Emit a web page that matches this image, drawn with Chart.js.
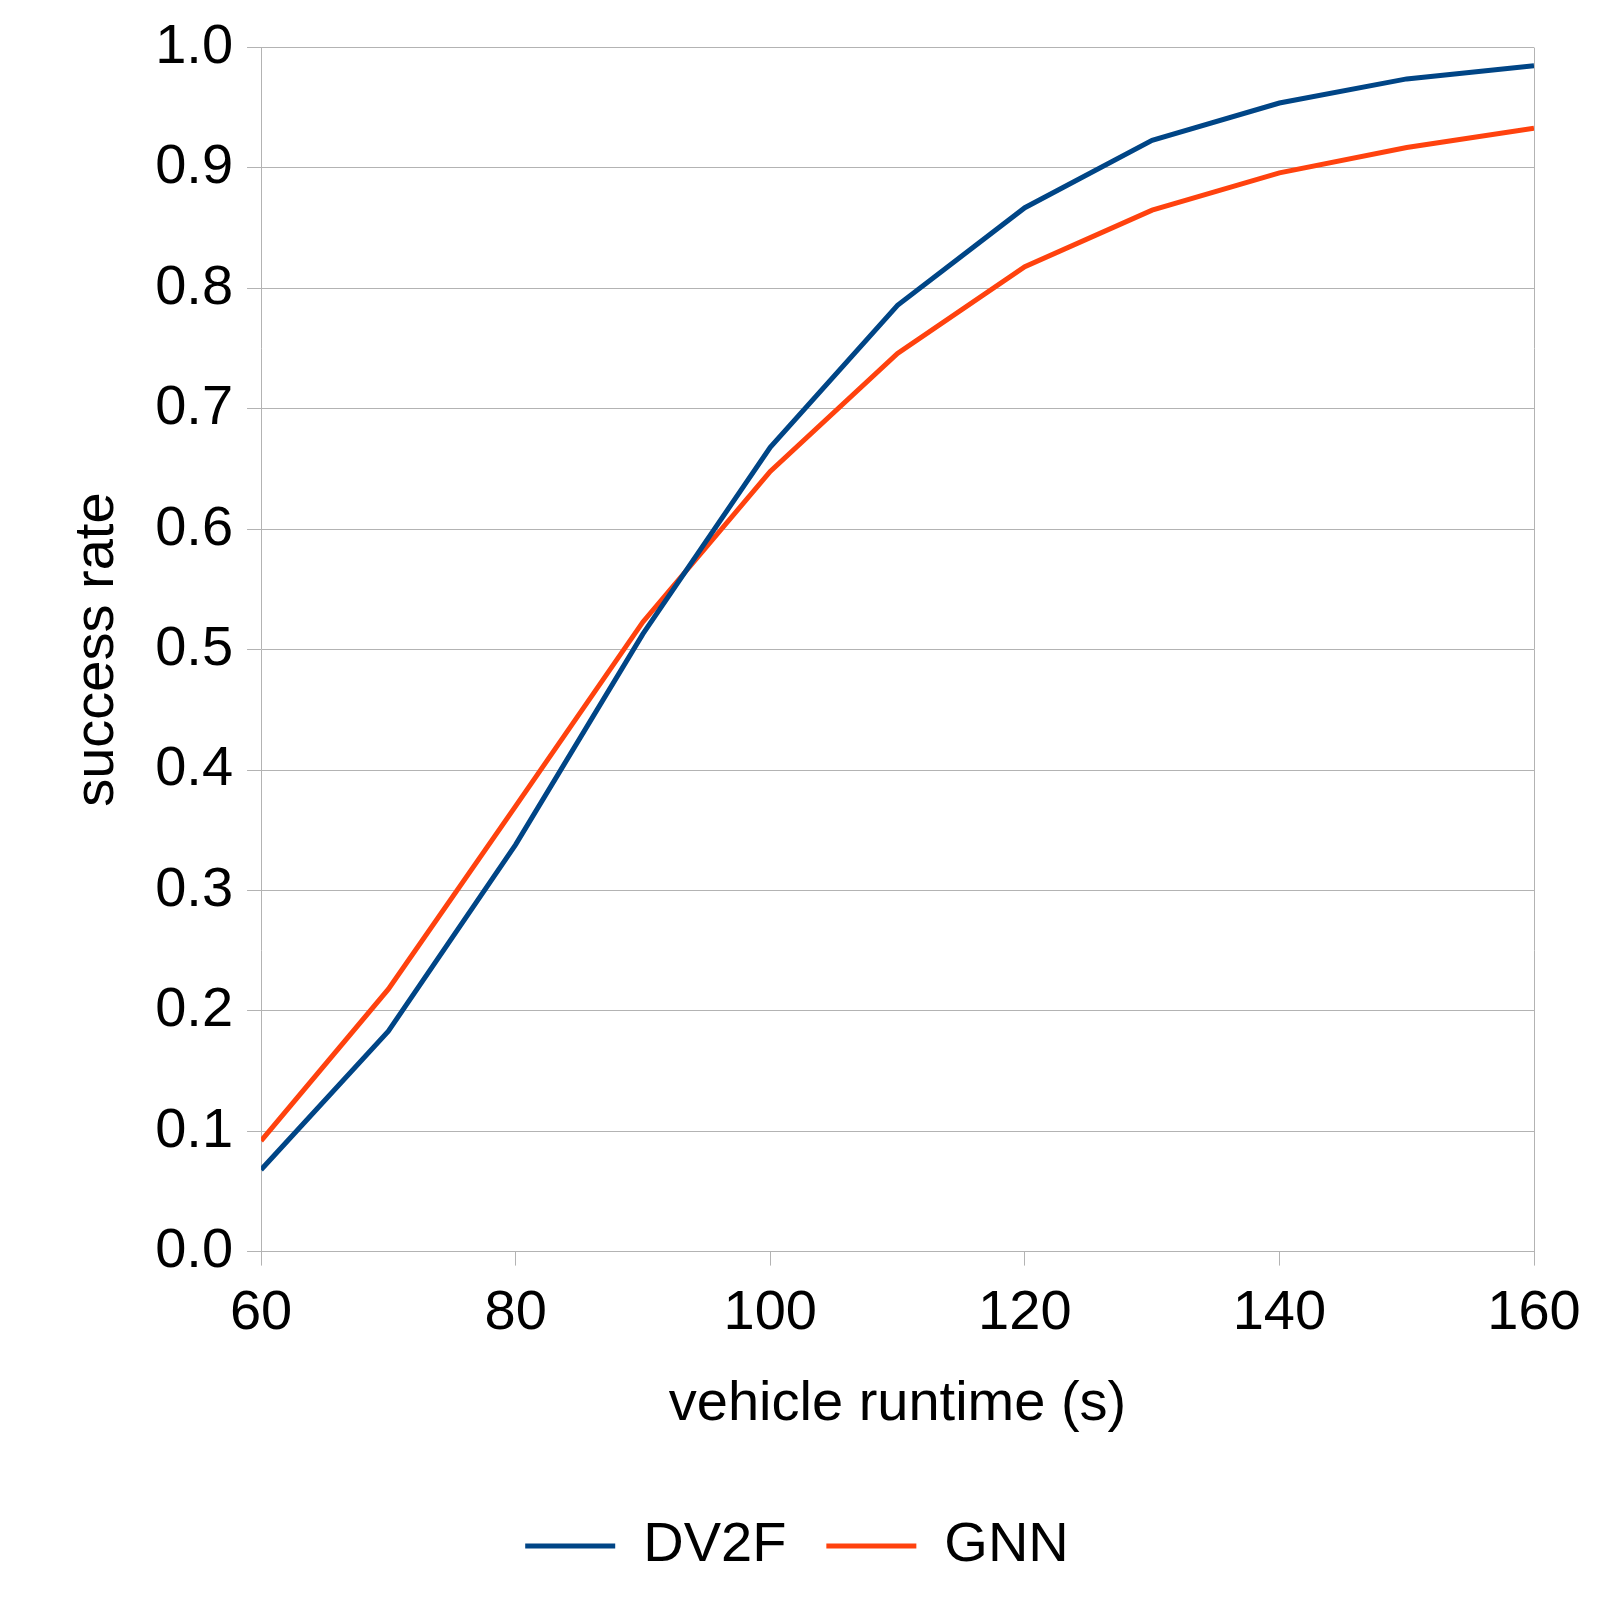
<!DOCTYPE html>
<html>
<head>
<meta charset="utf-8">
<script src="https://cdn.jsdelivr.net/npm/chart.js@4"></script>
<style>
  body { margin: 0; background: #fff; }
</style>
</head>
<body>
<canvas id="chart" width="1624" height="1624"></canvas>
<script>
const runtimes = [60, 70, 80, 90, 100, 110, 120, 130, 140, 150, 160];
const dv2f = [0.068, 0.183, 0.338, 0.513, 0.668, 0.786, 0.867, 0.923, 0.954, 0.974, 0.985];
const gnn = [0.092, 0.218, 0.370, 0.523, 0.648, 0.746, 0.818, 0.865, 0.896, 0.917, 0.933];

const toPoints = (ys) => runtimes.map((x, i) => ({ x: x, y: ys[i] }));

// draws the right-hand frame line of the plot area
const rightBorder = {
  id: "rightBorder",
  afterDraw(chart) {
    const { ctx, chartArea } = chart;
    ctx.save();
    ctx.strokeStyle = "#b3b3b3";
    ctx.lineWidth = 1;
    ctx.beginPath();
    ctx.moveTo(chartArea.right + 0.5, chartArea.top);
    ctx.lineTo(chartArea.right + 0.5, chartArea.bottom);
    ctx.stroke();
    ctx.restore();
  },
};

Chart.defaults.font.family = "'Liberation Sans', Arial, sans-serif";
Chart.defaults.color = "#000";

new Chart(document.getElementById("chart"), {
  type: "line",
  data: {
    datasets: [
      { label: "DV2F", data: toPoints(dv2f), borderColor: "#004586", borderWidth: 5, pointRadius: 0, tension: 0 },
      { label: "GNN", data: toPoints(gnn), borderColor: "#ff420e", borderWidth: 5, pointRadius: 0, tension: 0 },
    ],
  },
  options: {
    responsive: false,
    animation: false,
    layout: { padding: { left: 60, right: 90, top: 30, bottom: 40 } },
    plugins: {
      legend: {
        position: "bottom",
        labels: {
          font: { size: 56 },
          boxWidth: 90,
          boxHeight: 0,
          padding: 40,
          generateLabels(chart) {
            return chart.data.datasets.map((d, i) => ({
              text: d.label,
              strokeStyle: d.borderColor,
              fillStyle: d.borderColor,
              lineWidth: 5,
              datasetIndex: i,
            }));
          },
        },
      },
      tooltip: { enabled: false },
    },
    scales: {
      x: {
        type: "linear",
        min: 60,
        max: 160,
        ticks: { stepSize: 20, font: { size: 56 }, padding: 14 },
        grid: { drawOnChartArea: false, color: "#b3b3b3", tickLength: 14 },
        border: { color: "#b3b3b3" },
        title: { display: true, text: "vehicle runtime (s)", font: { size: 56 }, padding: { top: 10, bottom: 40 } },
      },
      y: {
        min: 0,
        max: 1,
        ticks: { stepSize: 0.1, font: { size: 56 }, padding: 14, callback: (v) => v.toFixed(1) },
        grid: { color: "#b3b3b3", tickLength: 14 },
        border: { color: "#b3b3b3" },
        title: { display: true, text: "success rate", font: { size: 56 }, padding: { bottom: 10 } },
      },
    },
  },
  plugins: [rightBorder],
});
</script>
</body>
</html>
